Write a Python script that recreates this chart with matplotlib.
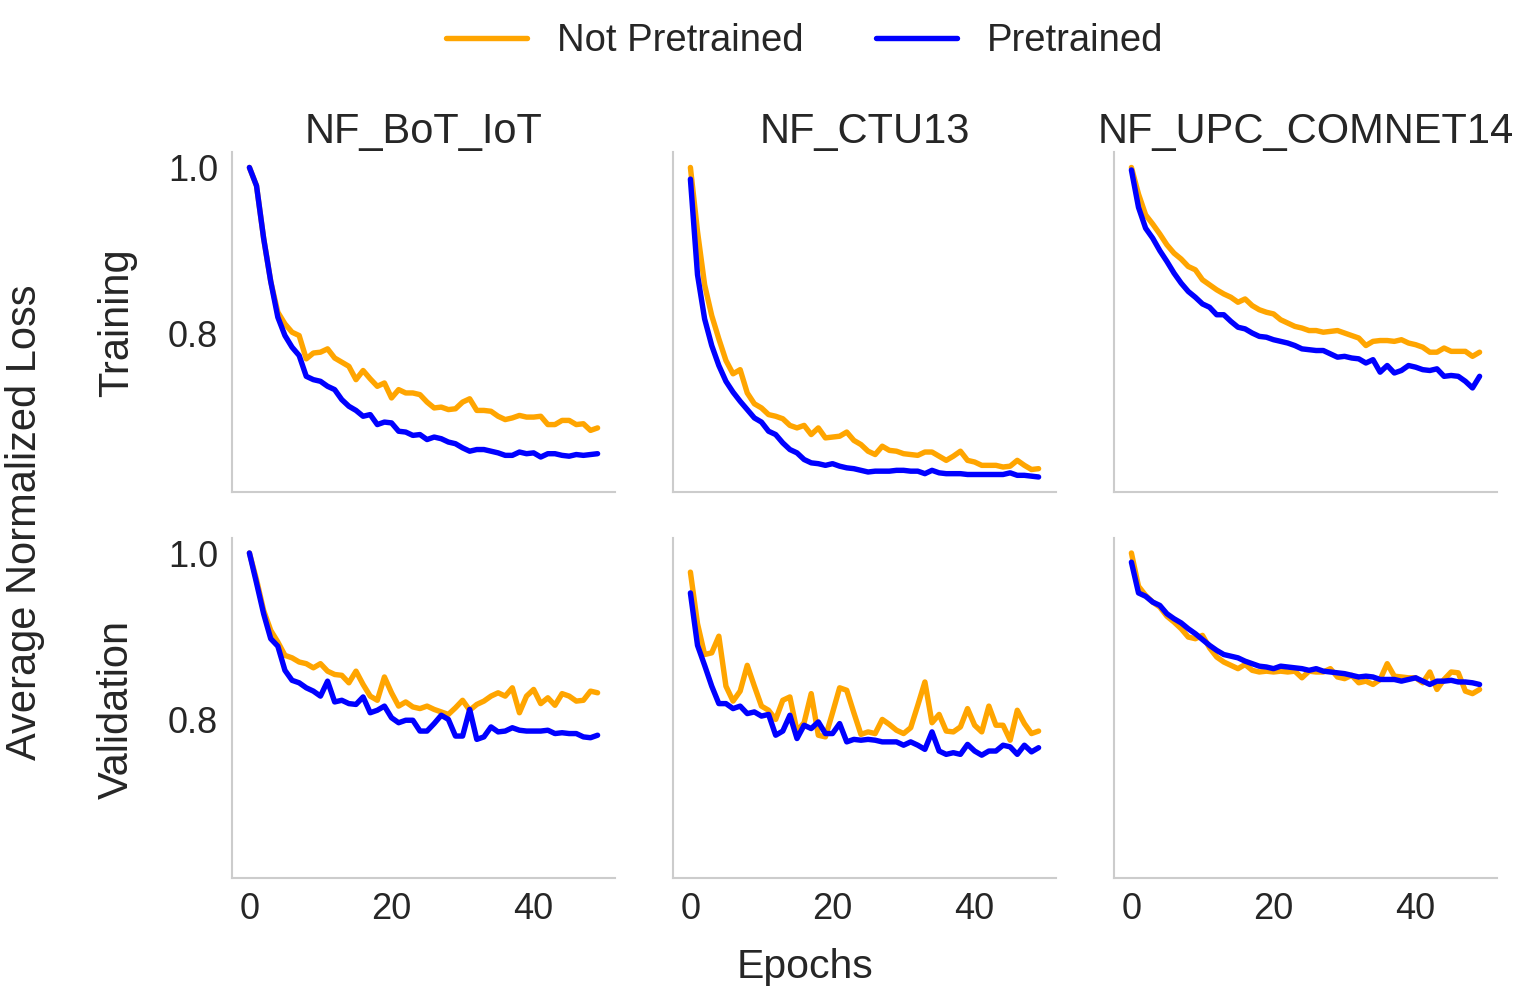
import matplotlib
matplotlib.use("Agg")
import matplotlib.pyplot as plt
import numpy as np

epochs = list(range(50))
datasets = ["NF_BoT_IoT", "NF_CTU13", "NF_UPC_COMNET14"]
phases = ["Training", "Validation"]
series_names = ["Not Pretrained", "Pretrained"]

# Training loss
bot_train_np = [1.000, 0.978, 0.915, 0.863, 0.826, 0.812, 0.802, 0.798, 0.770, 0.777,
                0.778, 0.782, 0.771, 0.766, 0.761, 0.745, 0.756, 0.746, 0.737, 0.741,
                0.723, 0.733, 0.729, 0.729, 0.727, 0.718, 0.711, 0.712, 0.709, 0.710,
                0.718, 0.722, 0.708, 0.708, 0.707, 0.701, 0.697, 0.699, 0.702, 0.700,
                0.700, 0.701, 0.691, 0.691, 0.696, 0.696, 0.691, 0.692, 0.684, 0.687]
bot_train_p = [1.000, 0.978, 0.915, 0.863, 0.820, 0.798, 0.784, 0.774, 0.749, 0.745,
               0.743, 0.737, 0.733, 0.721, 0.713, 0.708, 0.701, 0.703, 0.691, 0.694,
               0.693, 0.683, 0.682, 0.678, 0.679, 0.673, 0.676, 0.674, 0.670, 0.668,
               0.663, 0.659, 0.661, 0.661, 0.659, 0.657, 0.654, 0.654, 0.658, 0.656,
               0.657, 0.652, 0.656, 0.656, 0.654, 0.653, 0.655, 0.654, 0.655, 0.656]
ctu_train_np = [1.000, 0.923, 0.859, 0.822, 0.794, 0.768, 0.752, 0.757, 0.729, 0.716,
                0.711, 0.703, 0.701, 0.698, 0.690, 0.687, 0.690, 0.679, 0.687, 0.675,
                0.676, 0.677, 0.682, 0.672, 0.667, 0.659, 0.655, 0.665, 0.660, 0.659,
                0.656, 0.655, 0.654, 0.658, 0.658, 0.653, 0.648, 0.653, 0.659, 0.648,
                0.646, 0.642, 0.642, 0.642, 0.640, 0.641, 0.648, 0.642, 0.637, 0.638]
ctu_train_p = [0.986, 0.871, 0.818, 0.786, 0.762, 0.743, 0.730, 0.719, 0.709, 0.699,
               0.694, 0.683, 0.679, 0.669, 0.661, 0.657, 0.649, 0.645, 0.644, 0.642,
               0.644, 0.641, 0.639, 0.638, 0.636, 0.634, 0.635, 0.635, 0.635, 0.636,
               0.636, 0.635, 0.635, 0.632, 0.636, 0.633, 0.632, 0.632, 0.632, 0.631,
               0.631, 0.631, 0.631, 0.631, 0.631, 0.633, 0.630, 0.630, 0.629, 0.628]
upc_train_np = [1.000, 0.968, 0.943, 0.932, 0.920, 0.907, 0.897, 0.890, 0.881, 0.877,
                0.865, 0.859, 0.853, 0.848, 0.844, 0.838, 0.842, 0.834, 0.829, 0.826,
                0.824, 0.817, 0.813, 0.809, 0.807, 0.804, 0.804, 0.802, 0.803, 0.804,
                0.801, 0.798, 0.795, 0.786, 0.791, 0.792, 0.792, 0.791, 0.793, 0.789,
                0.787, 0.784, 0.778, 0.778, 0.783, 0.779, 0.779, 0.779, 0.773, 0.778]
upc_train_p = [0.997, 0.952, 0.927, 0.915, 0.900, 0.887, 0.873, 0.861, 0.851, 0.844,
               0.836, 0.832, 0.823, 0.823, 0.815, 0.808, 0.806, 0.801, 0.797, 0.796,
               0.793, 0.791, 0.789, 0.786, 0.782, 0.781, 0.780, 0.780, 0.776, 0.772,
               0.773, 0.771, 0.770, 0.765, 0.769, 0.754, 0.762, 0.753, 0.756, 0.762,
               0.760, 0.757, 0.756, 0.758, 0.749, 0.750, 0.749, 0.743, 0.735, 0.749]

# Validation loss
bot_val_np = [1.000, 0.968, 0.931, 0.907, 0.893, 0.877, 0.874, 0.869, 0.867, 0.862,
              0.867, 0.858, 0.854, 0.853, 0.844, 0.858, 0.842, 0.828, 0.823, 0.851,
              0.832, 0.816, 0.821, 0.815, 0.813, 0.816, 0.812, 0.809, 0.806, 0.814,
              0.823, 0.811, 0.818, 0.822, 0.828, 0.832, 0.828, 0.838, 0.808, 0.828,
              0.836, 0.819, 0.826, 0.817, 0.831, 0.828, 0.822, 0.823, 0.834, 0.832]
bot_val_p = [1.000, 0.964, 0.927, 0.897, 0.888, 0.859, 0.847, 0.844, 0.838, 0.834,
             0.828, 0.846, 0.821, 0.823, 0.819, 0.818, 0.827, 0.808, 0.811, 0.816,
             0.802, 0.796, 0.799, 0.799, 0.786, 0.786, 0.795, 0.805, 0.800, 0.780,
             0.780, 0.812, 0.776, 0.779, 0.791, 0.785, 0.786, 0.790, 0.787, 0.786,
             0.786, 0.786, 0.787, 0.783, 0.784, 0.783, 0.783, 0.779, 0.778, 0.781]
ctu_val_np = [0.977, 0.915, 0.878, 0.880, 0.900, 0.840, 0.822, 0.834, 0.865, 0.840,
              0.816, 0.811, 0.800, 0.823, 0.827, 0.786, 0.796, 0.831, 0.781, 0.779,
              0.808, 0.838, 0.835, 0.808, 0.782, 0.785, 0.783, 0.800, 0.794, 0.787,
              0.783, 0.790, 0.817, 0.845, 0.796, 0.806, 0.786, 0.785, 0.791, 0.813,
              0.793, 0.785, 0.816, 0.793, 0.793, 0.775, 0.811, 0.795, 0.783, 0.786]
ctu_val_p = [0.952, 0.889, 0.865, 0.840, 0.819, 0.819, 0.813, 0.816, 0.807, 0.809,
             0.804, 0.806, 0.781, 0.786, 0.805, 0.777, 0.793, 0.789, 0.797, 0.783,
             0.783, 0.795, 0.773, 0.776, 0.775, 0.776, 0.775, 0.773, 0.773, 0.773,
             0.769, 0.773, 0.769, 0.764, 0.785, 0.762, 0.758, 0.760, 0.758, 0.770,
             0.762, 0.757, 0.762, 0.762, 0.769, 0.767, 0.758, 0.769, 0.761, 0.766]
upc_val_np = [1.000, 0.960, 0.949, 0.941, 0.935, 0.924, 0.917, 0.909, 0.899, 0.897,
              0.901, 0.886, 0.875, 0.869, 0.865, 0.861, 0.866, 0.859, 0.857, 0.858,
              0.857, 0.858, 0.857, 0.858, 0.850, 0.858, 0.857, 0.857, 0.861, 0.851,
              0.849, 0.853, 0.844, 0.846, 0.842, 0.848, 0.867, 0.852, 0.851, 0.850,
              0.850, 0.844, 0.857, 0.836, 0.848, 0.857, 0.856, 0.834, 0.831, 0.836]
upc_val_p = [0.989, 0.952, 0.948, 0.941, 0.937, 0.927, 0.921, 0.916, 0.909, 0.903,
             0.896, 0.889, 0.883, 0.878, 0.876, 0.874, 0.870, 0.867, 0.864, 0.863,
             0.861, 0.864, 0.863, 0.862, 0.861, 0.859, 0.861, 0.858, 0.857, 0.856,
             0.855, 0.853, 0.851, 0.852, 0.851, 0.848, 0.848, 0.848, 0.846, 0.848,
             0.850, 0.846, 0.842, 0.846, 0.846, 0.847, 0.845, 0.845, 0.844, 0.842]

grid = [
    [(bot_train_np, bot_train_p), (ctu_train_np, ctu_train_p), (upc_train_np, upc_train_p)],
    [(bot_val_np, bot_val_p), (ctu_val_np, ctu_val_p), (upc_val_np, upc_val_p)],
]

colors = ["#FFA500", "#0000FF"]
text_color = "#262626"

plt.rcParams["font.family"] = ["Liberation Sans", "DejaVu Sans"]
plt.rcParams["text.color"] = text_color
plt.rcParams["axes.labelcolor"] = text_color
plt.rcParams["xtick.color"] = text_color
plt.rcParams["ytick.color"] = text_color

fig, axes = plt.subplots(2, 3, sharex=True, sharey=True, figsize=(15.24, 9.98), dpi=100)
fig.subplots_adjust(left=232/1524, right=1497/1524, bottom=1-878/998, top=1-152/998,
                    wspace=58/383, hspace=45/340)

for r in range(2):
    for c in range(3):
        ax = axes[r][c]
        np_vals, p_vals = grid[r][c]
        ax.plot(epochs, np_vals, color=colors[0], lw=3.9, label=series_names[0],
                solid_capstyle="round")
        ax.plot(epochs, p_vals, color=colors[1], lw=3.9, label=series_names[1],
                solid_capstyle="round")
        for s in ["top", "right"]:
            ax.spines[s].set_visible(False)
        for s in ["left", "bottom"]:
            ax.spines[s].set_color("#cccccc")
            ax.spines[s].set_linewidth(1.5)
        ax.tick_params(length=0, pad=10, labelsize=26)
        ax.set_facecolor("white")
        if r == 0:
            ax.set_title(datasets[c], fontsize=30, pad=4, color=text_color)

axes[0][0].set_xticks([0, 20, 40])
axes[0][0].set_yticks([0.8, 1.0])

for r in range(2):
    fig.text(117/1524, 1 - (323 if r == 0 else 709)/998, phases[r], rotation=90,
             ha="center", va="center", fontsize=30)

fig.text(25/1524, 1 - 522/998, "Average Normalized Loss", rotation=90,
         ha="center", va="center", fontsize=30)
fig.text(805/1524, 1 - 967/998, "Epochs", ha="center", va="center", fontsize=29.5)

handles, labels = axes[0][0].get_legend_handles_labels()
fig.legend(handles, labels, loc="center", bbox_to_anchor=(805/1524, 1 - 41/998),
           ncol=2, frameon=False, fontsize=27.5, handlelength=2.1,
           handletextpad=0.8, columnspacing=1.9)

fig.savefig("out.png", dpi=100, facecolor="white")
